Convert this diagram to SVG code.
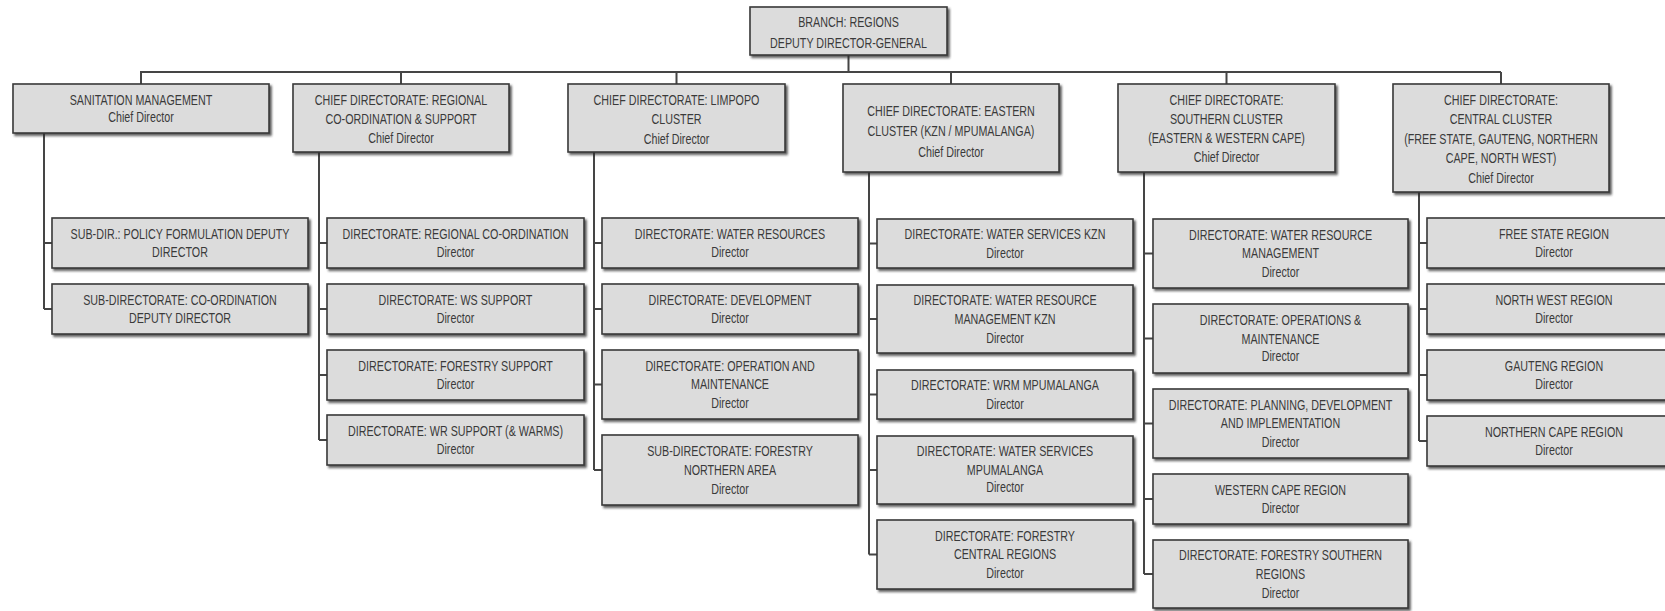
<svg xmlns="http://www.w3.org/2000/svg" width="1665" height="611" viewBox="0 0 1665 611">
<style>
.b{fill:#dcdcdc;stroke:#3a3a3a;stroke-width:1.6;filter:url(#sh)}
.t{font-family:"Liberation Sans",Arial,sans-serif;font-size:14.5px;fill:#3a3a3a;text-anchor:middle}
.c{fill:none;stroke:#454545;stroke-width:2}
</style>
<defs>
<filter id="sh" x="-5%" y="-10%" width="115%" height="130%">
<feDropShadow dx="2" dy="2.2" stdDeviation="0.9" flood-color="#2a2a2a" flood-opacity="0.75"/>
</filter>
</defs>
<rect width="1665" height="611" fill="#ffffff"/>
<g id="connectors">
<path class="c" d="M848.5 55V72M140 72H1501M141 72V84M401 72V84M676.5 72V84M951 72V84M1226.5 72V84M1501 72V84"/>
<path class="c" d="M44 133V309M44 243H52M44 309H52"/>
<path class="c" d="M319 152V440M319 243H327M319 309H327M319 375H327M319 440H327"/>
<path class="c" d="M594 152V470M594 243H602M594 309H602M594 384.5H602M594 470H602"/>
<path class="c" d="M869 172V554.5M869 243.5H877M869 319H877M869 394.5H877M869 470H877M869 554.5H877"/>
<path class="c" d="M1144 172V574M1144 253.5H1153M1144 338.5H1153M1144 423.5H1153M1144 499H1153M1144 574H1153"/>
<path class="c" d="M1419 192V441M1419 243H1427M1419 309H1427M1419 375H1427M1419 441H1427"/>
</g>
<g id="top"><rect class="b" x="750" y="7" width="197" height="48"/>
<text class="t" transform="translate(848.5 27) scale(0.74 1)"><tspan x="0">BRANCH: REGIONS</tspan><tspan x="0" dy="21">DEPUTY DIRECTOR-GENERAL</tspan></text></g>

<g id="sanitation"><rect class="b" x="13" y="84" width="256" height="49"/>
<text class="t" transform="translate(141 105) scale(0.74 1)"><tspan x="0">SANITATION MANAGEMENT</tspan><tspan x="0" dy="17">Chief Director</tspan></text></g>
<g id="regional"><rect class="b" x="293" y="84" width="216" height="68"/>
<text class="t" transform="translate(401 105) scale(0.74 1)"><tspan x="0">CHIEF DIRECTORATE: REGIONAL</tspan><tspan x="0" dy="19">CO-ORDINATION &amp; SUPPORT</tspan><tspan x="0" dy="19">Chief Director</tspan></text></g>
<g id="limpopo"><rect class="b" x="568" y="84" width="217" height="68"/>
<text class="t" transform="translate(676.5 105) scale(0.74 1)"><tspan x="0">CHIEF DIRECTORATE: LIMPOPO</tspan><tspan x="0" dy="19">CLUSTER</tspan><tspan x="0" dy="20">Chief Director</tspan></text></g>
<g id="eastern"><rect class="b" x="843" y="84" width="216" height="88"/>
<text class="t" transform="translate(951 116) scale(0.74 1)"><tspan x="0">CHIEF DIRECTORATE: EASTERN</tspan><tspan x="0" dy="20">CLUSTER (KZN / MPUMALANGA)</tspan><tspan x="0" dy="21">Chief Director</tspan></text></g>
<g id="southern"><rect class="b" x="1118" y="84" width="217" height="88"/>
<text class="t" transform="translate(1226.5 105) scale(0.74 1)"><tspan x="0">CHIEF DIRECTORATE:</tspan><tspan x="0" dy="19">SOUTHERN CLUSTER</tspan><tspan x="0" dy="19">(EASTERN &amp; WESTERN CAPE)</tspan><tspan x="0" dy="19">Chief Director</tspan></text></g>
<g id="central"><rect class="b" x="1393" y="84" width="216" height="108"/>
<text class="t" transform="translate(1501 105) scale(0.74 1)"><tspan x="0">CHIEF DIRECTORATE:</tspan><tspan x="0" dy="19.5">CENTRAL CLUSTER</tspan><tspan x="0" dy="19.5">(FREE STATE, GAUTENG, NORTHERN</tspan><tspan x="0" dy="19.5">CAPE, NORTH WEST)</tspan><tspan x="0" dy="19.5">Chief Director</tspan></text></g>

<g id="san1"><rect class="b" x="52" y="218" width="256" height="50"/>
<text class="t" transform="translate(180 238.5) scale(0.74 1)"><tspan x="0">SUB-DIR.: POLICY FORMULATION DEPUTY</tspan><tspan x="0" dy="19">DIRECTOR</tspan></text></g>
<g id="san2"><rect class="b" x="52" y="284" width="256" height="50"/>
<text class="t" transform="translate(180 304.5) scale(0.74 1)"><tspan x="0">SUB-DIRECTORATE: CO-ORDINATION</tspan><tspan x="0" dy="19">DEPUTY DIRECTOR</tspan></text></g>

<g id="reg1"><rect class="b" x="327" y="218" width="257" height="50"/>
<text class="t" transform="translate(455.5 238.5) scale(0.74 1)"><tspan x="0">DIRECTORATE: REGIONAL CO-ORDINATION</tspan><tspan x="0" dy="19">Director</tspan></text></g>
<g id="reg2"><rect class="b" x="327" y="284" width="257" height="50"/>
<text class="t" transform="translate(455.5 304.5) scale(0.74 1)"><tspan x="0">DIRECTORATE: WS SUPPORT</tspan><tspan x="0" dy="19">Director</tspan></text></g>
<g id="reg3"><rect class="b" x="327" y="350" width="257" height="50"/>
<text class="t" transform="translate(455.5 370.5) scale(0.74 1)"><tspan x="0">DIRECTORATE: FORESTRY SUPPORT</tspan><tspan x="0" dy="19">Director</tspan></text></g>
<g id="reg4"><rect class="b" x="327" y="415" width="257" height="50"/>
<text class="t" transform="translate(455.5 435.5) scale(0.74 1)"><tspan x="0">DIRECTORATE: WR SUPPORT (&amp; WARMS)</tspan><tspan x="0" dy="19">Director</tspan></text></g>

<g id="lim1"><rect class="b" x="602" y="218" width="256" height="50"/>
<text class="t" transform="translate(730 238.5) scale(0.74 1)"><tspan x="0">DIRECTORATE: WATER RESOURCES</tspan><tspan x="0" dy="19">Director</tspan></text></g>
<g id="lim2"><rect class="b" x="602" y="284" width="256" height="50"/>
<text class="t" transform="translate(730 304.5) scale(0.74 1)"><tspan x="0">DIRECTORATE: DEVELOPMENT</tspan><tspan x="0" dy="19">Director</tspan></text></g>
<g id="lim3"><rect class="b" x="602" y="350" width="256" height="69"/>
<text class="t" transform="translate(730 370.5) scale(0.74 1)"><tspan x="0">DIRECTORATE: OPERATION AND</tspan><tspan x="0" dy="19">MAINTENANCE</tspan><tspan x="0" dy="19">Director</tspan></text></g>
<g id="lim4"><rect class="b" x="602" y="435" width="256" height="70"/>
<text class="t" transform="translate(730 456) scale(0.74 1)"><tspan x="0">SUB-DIRECTORATE: FORESTRY</tspan><tspan x="0" dy="19">NORTHERN AREA</tspan><tspan x="0" dy="19">Director</tspan></text></g>

<g id="eas1"><rect class="b" x="877" y="219" width="256" height="49"/>
<text class="t" transform="translate(1005 239) scale(0.74 1)"><tspan x="0">DIRECTORATE: WATER SERVICES KZN</tspan><tspan x="0" dy="19">Director</tspan></text></g>
<g id="eas2"><rect class="b" x="877" y="285" width="256" height="68"/>
<text class="t" transform="translate(1005 305) scale(0.74 1)"><tspan x="0">DIRECTORATE: WATER RESOURCE</tspan><tspan x="0" dy="19">MANAGEMENT KZN</tspan><tspan x="0" dy="19">Director</tspan></text></g>
<g id="eas3"><rect class="b" x="877" y="370" width="256" height="49"/>
<text class="t" transform="translate(1005 390) scale(0.74 1)"><tspan x="0">DIRECTORATE: WRM MPUMALANGA</tspan><tspan x="0" dy="19">Director</tspan></text></g>
<g id="eas4"><rect class="b" x="877" y="436" width="256" height="68"/>
<text class="t" transform="translate(1005 456) scale(0.74 1)"><tspan x="0">DIRECTORATE: WATER SERVICES</tspan><tspan x="0" dy="19">MPUMALANGA</tspan><tspan x="0" dy="17">Director</tspan></text></g>
<g id="eas5"><rect class="b" x="877" y="520" width="256" height="69"/>
<text class="t" transform="translate(1005 540.5) scale(0.74 1)"><tspan x="0">DIRECTORATE: FORESTRY</tspan><tspan x="0" dy="19">CENTRAL REGIONS</tspan><tspan x="0" dy="19">Director</tspan></text></g>

<g id="sou1"><rect class="b" x="1153" y="219" width="255" height="69"/>
<text class="t" transform="translate(1280.5 239.5) scale(0.74 1)"><tspan x="0">DIRECTORATE: WATER RESOURCE</tspan><tspan x="0" dy="19">MANAGEMENT</tspan><tspan x="0" dy="19">Director</tspan></text></g>
<g id="sou2"><rect class="b" x="1153" y="304" width="255" height="69"/>
<text class="t" transform="translate(1280.5 325) scale(0.74 1)"><tspan x="0">DIRECTORATE: OPERATIONS &amp;</tspan><tspan x="0" dy="19">MAINTENANCE</tspan><tspan x="0" dy="17">Director</tspan></text></g>
<g id="sou3"><rect class="b" x="1153" y="389" width="255" height="69"/>
<text class="t" transform="translate(1280.5 409.5) scale(0.74 1)"><tspan x="0">DIRECTORATE: PLANNING, DEVELOPMENT</tspan><tspan x="0" dy="19">AND IMPLEMENTATION</tspan><tspan x="0" dy="19">Director</tspan></text></g>
<g id="sou4"><rect class="b" x="1153" y="474" width="255" height="50"/>
<text class="t" transform="translate(1280.5 494.5) scale(0.74 1)"><tspan x="0">WESTERN CAPE REGION</tspan><tspan x="0" dy="19">Director</tspan></text></g>
<g id="sou5"><rect class="b" x="1153" y="540" width="255" height="68"/>
<text class="t" transform="translate(1280.5 560) scale(0.74 1)"><tspan x="0">DIRECTORATE: FORESTRY SOUTHERN</tspan><tspan x="0" dy="19">REGIONS</tspan><tspan x="0" dy="19">Director</tspan></text></g>

<g id="cen1"><rect class="b" x="1427" y="218" width="256" height="50"/>
<text class="t" transform="translate(1554 238.5) scale(0.74 1)"><tspan x="0">FREE STATE REGION</tspan><tspan x="0" dy="19">Director</tspan></text></g>
<g id="cen2"><rect class="b" x="1427" y="284" width="256" height="50"/>
<text class="t" transform="translate(1554 304.5) scale(0.74 1)"><tspan x="0">NORTH WEST REGION</tspan><tspan x="0" dy="19">Director</tspan></text></g>
<g id="cen3"><rect class="b" x="1427" y="350" width="256" height="50"/>
<text class="t" transform="translate(1554 370.5) scale(0.74 1)"><tspan x="0">GAUTENG REGION</tspan><tspan x="0" dy="19">Director</tspan></text></g>
<g id="cen4"><rect class="b" x="1427" y="416" width="256" height="50"/>
<text class="t" transform="translate(1554 436.5) scale(0.74 1)"><tspan x="0">NORTHERN CAPE REGION</tspan><tspan x="0" dy="19">Director</tspan></text></g>
</svg>
